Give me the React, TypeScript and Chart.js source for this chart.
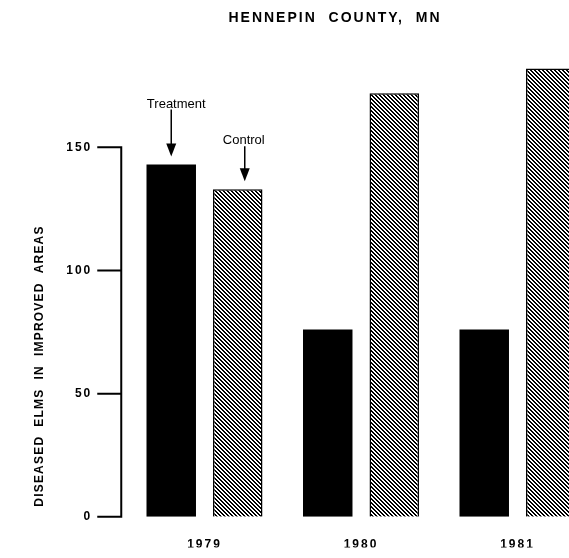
import { useEffect, useRef } from 'react';
import { Chart, registerables } from 'chart.js';

Chart.register(...registerables);

const categories = ['1979', '1980', '1981'];
const treatmentValues = [143, 76, 76];
const controlValues = [133, 172, 182];
const yTickValues = [0, 50, 100, 150];
const seriesNames = ['Treatment', 'Control'];
const chartTitle = 'HENNEPIN  COUNTY,  MN';
const yAxisTitle = 'DISEASED  ELMS  IN  IMPROVED  AREAS';

const FONT = '"Liberation Sans", Arial, Helvetica, sans-serif';

function drawArrow(ctx: CanvasRenderingContext2D, x: number, tipY: number, len: number, label: string, labelDx: number) {
  const headH = 13;
  const headW = 10;
  ctx.beginPath();
  ctx.lineWidth = 1.5;
  ctx.moveTo(x, tipY - len);
  ctx.lineTo(x, tipY - headH + 1);
  ctx.stroke();
  ctx.beginPath();
  ctx.moveTo(x - headW / 2, tipY - headH);
  ctx.lineTo(x + headW / 2, tipY - headH);
  ctx.lineTo(x, tipY);
  ctx.closePath();
  ctx.fill();
  ctx.font = `13px ${FONT}`;
  ctx.textAlign = 'center';
  ctx.textBaseline = 'alphabetic';
  ctx.fillText(label, x + labelDx, tipY - len - 2);
}

const deco = {
  id: 'deco',
  beforeDraw(chart: any) {
    chart.ctx.letterSpacing = '2px';
  },
  beforeDatasetsDraw(chart: any) {
    chart.ctx.letterSpacing = '0px';
  },
  afterDatasetsDraw(chart: any) {
    const { ctx, chartArea } = chart;
    const y = chart.scales.y;
    ctx.save();
    ctx.strokeStyle = '#000';
    ctx.fillStyle = '#000';

    // chart title
    ctx.save();
    ctx.font = `bold 14px ${FONT}`;
    ctx.letterSpacing = '2px';
    ctx.textAlign = 'center';
    ctx.textBaseline = 'middle';
    ctx.fillText(chartTitle, 335, 18);
    ctx.restore();

    ctx.letterSpacing = '0px';
    ctx.lineWidth = 2;
    const ax = chartArea.left - 5;
    ctx.beginPath();
    ctx.moveTo(ax, y.getPixelForValue(yTickValues[0]) + 1);
    ctx.lineTo(ax, y.getPixelForValue(yTickValues[yTickValues.length - 1]) - 1);
    for (const v of yTickValues) {
      const py = y.getPixelForValue(v);
      ctx.moveTo(ax - 24, py);
      ctx.lineTo(ax + 1, py);
    }
    ctx.stroke();

    // y axis title
    ctx.save();
    ctx.translate(40, 366);
    ctx.rotate(-Math.PI / 2);
    ctx.font = `bold 12px ${FONT}`;
    ctx.letterSpacing = '1.2px';
    ctx.textAlign = 'center';
    ctx.textBaseline = 'middle';
    ctx.fillText(yAxisTitle, 0, 0);
    ctx.restore();

    // annotations
    const tBar = chart.getDatasetMeta(0).data[0];
    const cBar = chart.getDatasetMeta(1).data[0];
    drawArrow(ctx, tBar.x, tBar.y - 8, 47, seriesNames[0], 5);
    drawArrow(ctx, cBar.x + 7, cBar.y - 8, 35, seriesNames[1], -1);
    ctx.restore();
  },
};

export default function App() {
  const ref = useRef<HTMLCanvasElement>(null);
  useEffect(() => {
    const canvas = ref.current!;
    const pc = document.createElement('canvas');
    pc.width = 4;
    pc.height = 4;
    const p = pc.getContext('2d')!;
    p.fillStyle = '#fff';
    p.fillRect(0, 0, 4, 4);
    p.fillStyle = '#000';
    for (let i = 0; i < 4; i++) {
      p.fillRect(i, i, 1, 1);
      p.fillRect((i + 1) % 4, i, 1, 1);
    }
    const pattern = canvas.getContext('2d')!.createPattern(pc, 'repeat')!;

    const chart = new Chart(canvas, {
      type: 'bar',
      data: {
        labels: categories,
        datasets: [
          {
            label: seriesNames[0],
            data: treatmentValues,
            backgroundColor: '#000',
            borderColor: '#000',
            borderWidth: 0,
          },
          {
            label: seriesNames[1],
            data: controlValues,
            backgroundColor: pattern as any,
            borderColor: '#000',
            borderWidth: 1.5,
          },
        ],
      },
      options: {
        animation: false,
        responsive: false,
        events: [],
        datasets: { bar: { categoryPercentage: 0.85, barPercentage: 0.744 } },
        layout: { padding: { left: 20, right: 72.25, top: 48.8, bottom: 0 } },
        plugins: {
          legend: { display: false },
          tooltip: { enabled: false },
          title: { display: false },
        },
        scales: {
          x: {
            grid: { display: false, drawTicks: false },
            border: { display: false },
            ticks: {
              color: '#000',
              font: { family: FONT, size: 12, weight: 'bold' },
              padding: 21,
              maxRotation: 0,
            },
            afterFit: (s: any) => {
              s.height = 30.8;
            },
          },
          y: {
            min: 0,
            max: 190,
            grid: { display: false, drawTicks: false },
            border: { display: false },
            ticks: {
              color: '#000',
              font: { family: FONT, size: 12, weight: 'bold' },
              padding: 34,
              stepSize: 50,
            },
            afterBuildTicks: (s: any) => {
              s.ticks = yTickValues.map((v) => ({ value: v }));
            },
            afterFit: (s: any) => {
              s.width = 106.25;
            },
          },
        },
      },
      plugins: [deco],
    });
    return () => chart.destroy();
  }, []);
  return (
    <div style={{ position: 'fixed', left: 0, top: 0, width: 569, height: 558, overflow: 'hidden', background: '#fff' }}>
      <canvas ref={ref} width={668} height={558} style={{ display: 'block' }} />
    </div>
  );
}
